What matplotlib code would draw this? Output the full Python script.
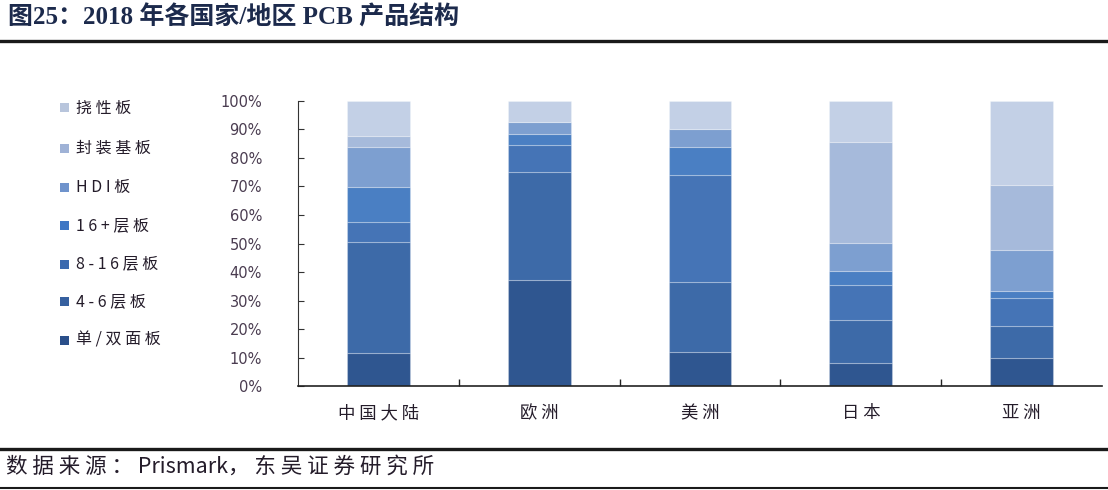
import matplotlib
matplotlib.use("Agg")
import matplotlib.pyplot as plt
from matplotlib.lines import Line2D
from matplotlib.patches import Rectangle

plt.rcParams['font.family'] = ['Noto Sans CJK SC', 'DejaVu Sans']

regions = ["中国大陆", "欧洲", "美洲", "日本", "亚洲"]
series_names = ["单/双面板", "4-6层板", "8-16层板", "16+层板", "HDI板", "封装基板", "挠性板"]
single_double = [11.5, 37.2, 12.0, 8.2, 9.7]
layer_4_6 = [39.1, 38.0, 24.6, 15.0, 11.4]
layer_8_16 = [7.0, 9.4, 37.4, 12.2, 9.7]
layer_16_plus = [12.3, 3.7, 9.8, 5.1, 2.5]
hdi = [14.0, 4.4, 6.3, 9.8, 14.4]
substrate = [3.7, 0.0, 0.0, 35.2, 22.8]
flexible = [12.4, 7.3, 9.9, 14.5, 29.5]
series_values = [single_double, layer_4_6, layer_8_16, layer_16_plus, hdi, substrate, flexible]
y_ticks = [0, 10, 20, 30, 40, 50, 60, 70, 80, 90, 100]

bar_colors = ["#2f5690", "#3d6aa8", "#4574b6", "#4a7fc3", "#7d9fd0", "#a6badb", "#c3d0e6"]
legend_colors = ["#2b4f8a", "#36609f", "#3b69ae", "#3f77c4", "#6f93cc", "#9fb2d6", "#b8c5dc"]
text_color = "#241c2a"


def spaced(s):
    """Open up the character spacing of a label."""
    return " ".join(s)


fig = plt.figure(figsize=(11.08, 4.90), dpi=100)
fig.patch.set_facecolor("white")

ax = fig.add_axes([0.269, 0.2122, 0.7256, 0.5817])
x = list(range(len(regions)))
bottom = [0.0] * len(regions)
for vals, col in zip(series_values, bar_colors):
    ax.bar(x, vals, width=0.39, bottom=bottom, color=col,
           edgecolor=(1, 1, 1, 0.25), linewidth=0.8)
    bottom = [b + v for b, v in zip(bottom, vals)]

ax.set_xlim(-0.5, len(regions) - 0.5)
ax.set_ylim(0, 100)
ax.set_yticks(y_ticks)
ax.set_yticklabels([f"{t}%" for t in y_ticks], fontsize=10.5, color="#4a3c50")
for lbl in ax.get_yticklabels():
    lbl.set_fontfamily("DejaVu Sans")
ax.tick_params(axis="y", direction="in", length=4, width=0.8, color="#333333", pad=26)

ax.set_xticks([i + 0.5 for i in x[:-1]])
ax.set_xticklabels([])
ax.tick_params(axis="x", direction="in", length=5, width=1.0, color="#222222")
for i, name in enumerate(regions):
    ax.text(i, -9.5, spaced(name), ha="center", va="center", fontsize=12.5,
            color=text_color, clip_on=False)

for side in ("top", "right"):
    ax.spines[side].set_visible(False)
ax.spines["left"].set_color("#333333")
ax.spines["bottom"].set_color("#222222")
ax.spines["bottom"].set_linewidth(1.2)

# legend drawn in figure coordinates: small squares followed by labels
legend_y = [340, 302, 264, 226, 187, 148, 108]
for name, col, yp in zip(series_names, legend_colors, legend_y):
    yf = 1 - yp / 490
    fig.patches.append(Rectangle((60 / 1108, yf - 4.5 / 490), 9 / 1108, 9 / 490,
                                 transform=fig.transFigure, facecolor=col,
                                 edgecolor="none"))
    fig.text(76 / 1108, yf, spaced(name), ha="left", va="center", fontsize=11.5,
             color=text_color)

# title and framing rules
fig.text(8 / 1108, 1 - 17 / 490, "图25：2018 年各国家/地区 PCB 产品结构",
         ha="left", va="center", fontsize=18, fontweight="bold", color="#1c2a4c",
         family=["Liberation Serif", "Noto Sans CJK SC"])
fig.add_artist(Line2D([0, 1], [1 - 41 / 490] * 2, transform=fig.transFigure,
                      color="#1a1a1a", linewidth=2.4))
fig.add_artist(Line2D([0, 1], [1 - 449 / 490] * 2, transform=fig.transFigure,
                      color="#1a1a1a", linewidth=2.4))
fig.add_artist(Line2D([0, 1], [1 - 488 / 490] * 2, transform=fig.transFigure,
                      color="#1a1a1a", linewidth=1.5))
fig.text(6 / 1108, 1 - 467 / 490, spaced("数据来源：") + " Prismark， " + spaced("东吴证券研究所"),
         ha="left", va="center", fontsize=15.5, color=text_color)

fig.savefig("out.png", dpi=100, facecolor="white")
